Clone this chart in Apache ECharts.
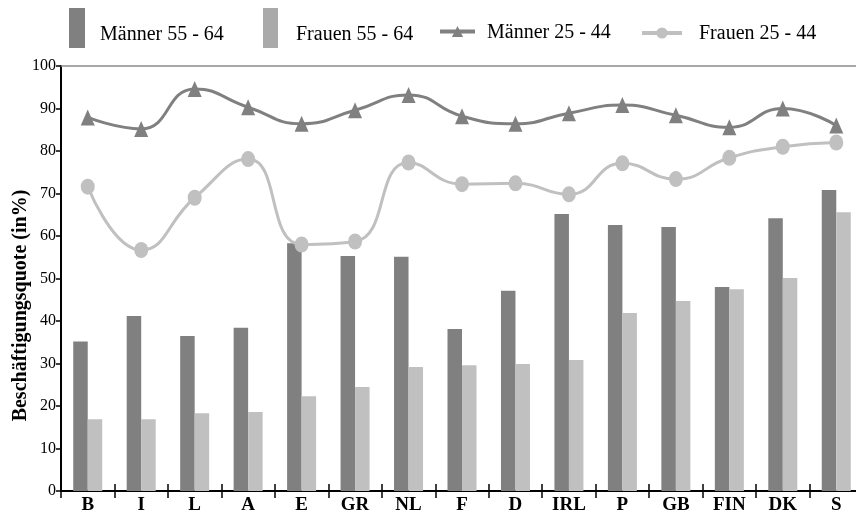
<!DOCTYPE html>
<html>
<head>
<meta charset="utf-8">
<script src="https://cdn.jsdelivr.net/npm/echarts@6/dist/echarts.min.js"></script>
<style>
  html, body { margin: 0; padding: 0; background: #fff; }
  #chart { width: 856px; height: 516px; }
</style>
</head>
<body>
<div id="chart"></div>
<script>
// Länderkürzel
const categories = ['B', 'I', 'L', 'A', 'E', 'GR', 'NL', 'F', 'D', 'IRL', 'P', 'GB', 'FIN', 'DK', 'S'];

// Beschäftigungsquoten in %
const maenner5564 = [35.2, 41.2, 36.5, 38.4, 58.3, 55.3, 55.1, 38.1, 47.1, 65.2, 62.6, 62.1, 48.0, 64.2, 70.8];
const frauen5564  = [16.9, 16.9, 18.3, 18.6, 22.3, 24.5, 29.2, 29.6, 29.9, 30.8, 41.9, 44.7, 47.5, 50.1, 65.6];
const maenner2544 = [87.9, 85.2, 94.6, 90.3, 86.4, 89.6, 93.2, 88.2, 86.4, 88.9, 90.8, 88.4, 85.6, 90.0, 86.0];
const frauen2544  = [71.6, 56.7, 69.0, 78.1, 58.0, 58.7, 77.3, 72.2, 72.4, 69.8, 77.1, 73.4, 78.4, 81.0, 82.0];

const seriesNames = ['Männer 55 - 64', 'Frauen 55 - 64', 'Männer 25 - 44', 'Frauen 25 - 44'];

const DARK = '#808080';
const LIGHT = '#c0c0c0';
const SERIF = '"Liberation Serif", "DejaVu Serif", serif';

// legend label with its own offset from the icon
const legendLabel = (padLeft, padTop) => ({
  formatter: '{t|{name}}',
  textStyle: {
    rich: {
      t: { fontFamily: SERIF, fontSize: 20, color: '#000', padding: [padTop, 0, 0, padLeft] }
    }
  }
});

const chart = echarts.init(document.getElementById('chart'), null, { renderer: 'canvas' });

chart.setOption({
  animation: false,
  backgroundColor: '#fff',
  grid: {
    left: 61, top: 66, width: 802, height: 425,
    containLabel: false, outerBoundsMode: 'none'
  },
  legend: [
    Object.assign({
      data: [{ name: seriesNames[0], icon: 'rect', itemStyle: { color: DARK } }],
      left: 69, top: 8, padding: 0, itemWidth: 16, itemHeight: 40, selectedMode: false
    }, legendLabel(10, 13)),
    Object.assign({
      data: [{ name: seriesNames[1], icon: 'rect', itemStyle: { color: '#aaaaaa' } }],
      left: 263, top: 8, padding: 0, itemWidth: 15, itemHeight: 40, selectedMode: false
    }, legendLabel(13, 13)),
    Object.assign({
      data: [seriesNames[2]],
      left: 438, top: 23, padding: 0, itemWidth: 35, itemHeight: 14, selectedMode: false,
      lineStyle: { width: 4 }
    }, legendLabel(7, 3)),
    Object.assign({
      data: [seriesNames[3]],
      left: 640, top: 24, padding: 0, itemWidth: 40, itemHeight: 14, selectedMode: false,
      lineStyle: { width: 4 }
    }, legendLabel(12, 2))
  ],
  xAxis: [
    {
      type: 'category',
      data: categories,
      position: 'bottom',
      axisLine: { lineStyle: { color: '#000', width: 2 } },
      axisTick: { show: true, length: 7, lineStyle: { color: '#000', width: 1.5 } },
      axisLabel: { color: '#000', fontFamily: SERIF, fontWeight: 'bold', fontSize: 19, margin: 5 },
      splitLine: { show: false }
    },
    {
      // inner half of the category ticks, so they cross the axis line
      type: 'category',
      data: categories,
      position: 'bottom',
      axisLine: { show: false },
      axisTick: { show: true, inside: true, length: 7, lineStyle: { color: '#000', width: 1.5 } },
      axisLabel: { show: false },
      splitLine: { show: false }
    },
    {
      // grey frame line along the top of the plot
      type: 'category',
      data: categories,
      position: 'top',
      axisLine: { lineStyle: { color: '#8c8c8c', width: 1.5 } },
      axisTick: { show: false },
      axisLabel: { show: false },
      splitLine: { show: false }
    }
  ],
  yAxis: {
    type: 'value',
    min: 0, max: 100, interval: 10,
    name: 'Beschäftigungsquote (in%)',
    nameLocation: 'middle',
    nameGap: 30,
    nameRotate: 90,
    nameMoveOverlap: false,
    nameTextStyle: {
      fontFamily: SERIF, fontWeight: 'bold', fontSize: 20, color: '#000',
      padding: [0, 54, 0, 0]
    },
    axisLine: { show: true, lineStyle: { color: '#000', width: 2 } },
    axisTick: { show: true, length: 5, lineStyle: { color: '#000', width: 1.5 } },
    axisLabel: { color: '#000', fontFamily: SERIF, fontSize: 16, margin: 5 },
    splitLine: { show: false }
  },
  series: [
    {
      name: seriesNames[0], type: 'bar', data: maenner5564,
      barWidth: 14.5, barGap: '0%',
      itemStyle: { color: DARK }
    },
    {
      name: seriesNames[1], type: 'bar', data: frauen5564,
      barWidth: 14.5, barGap: '0%',
      itemStyle: { color: LIGHT }
    },
    {
      name: seriesNames[2], type: 'line', data: maenner2544,
      smooth: 0.5,
      symbol: 'triangle', symbolSize: [14, 16],
      lineStyle: { color: DARK, width: 3 },
      itemStyle: { color: DARK }
    },
    {
      name: seriesNames[3], type: 'line', data: frauen2544,
      smooth: 0.5,
      symbol: 'circle', symbolSize: [14, 16],
      lineStyle: { color: LIGHT, width: 3 },
      itemStyle: { color: LIGHT }
    }
  ]
});
</script>
</body>
</html>
